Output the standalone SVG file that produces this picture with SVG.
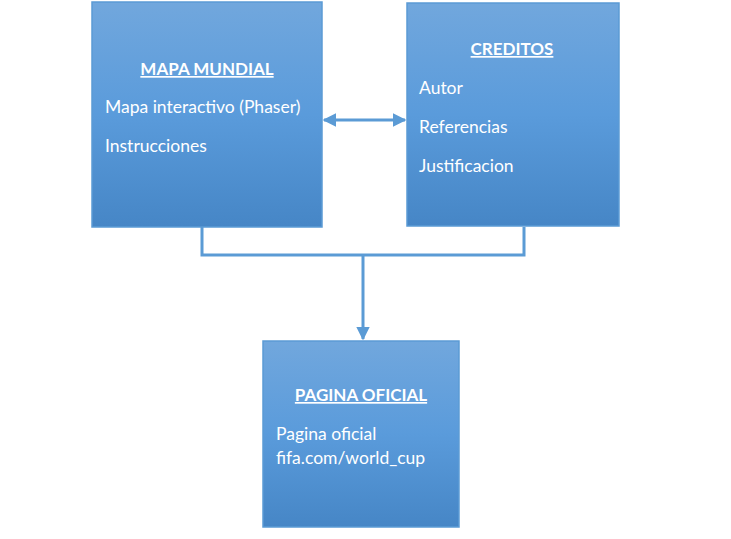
<svg xmlns="http://www.w3.org/2000/svg" width="731" height="539" viewBox="0 0 731 539">
<defs>
<linearGradient id="g" x1="0" y1="0" x2="0" y2="1">
<stop offset="0" stop-color="#71A7DD"/>
<stop offset="0.5" stop-color="#5A9BDB"/>
<stop offset="1" stop-color="#4686C6"/>
</linearGradient>
<marker id="ah" viewBox="0 0 10 10" refX="9" refY="5" markerWidth="4.5" markerHeight="4.5" orient="auto-start-reverse" markerUnits="strokeWidth">
<path d="M0,0 L10,5 L0,10 z" fill="#5B9BD5"/>
</marker>
<style>
.box{fill:url(#g);stroke:#5B9BD5;stroke-width:1.5}
.t{font-family:Lato,"Open Sans","Liberation Sans",sans-serif;font-size:17.5px;fill:#ffffff}
.h{font-weight:bold;text-decoration:underline;text-anchor:middle;font-size:17px}
.c{fill:none;stroke:#5B9BD5;stroke-width:3}
</style>
</defs>
<rect width="731" height="539" fill="#ffffff"/>
<g id="connectors">
<path class="c" d="M202,227 V255 H524 V227"/>
<path class="c" d="M363,255 V339" marker-end="url(#ah)"/>
<path class="c" d="M324,120 H405" marker-start="url(#ah)" marker-end="url(#ah)"/>
</g>
<g id="mapa-mundial">
<rect class="box" x="92" y="2" width="230" height="225"/>
<text class="t h" x="207" y="75">MAPA MUNDIAL</text>
<text class="t" x="105" y="113">Mapa interactivo (Phaser)</text>
<text class="t" x="105" y="152">Instrucciones</text>
</g>
<g id="creditos">
<rect class="box" x="407" y="3" width="212" height="223"/>
<text class="t h" x="512" y="55">CREDITOS</text>
<text class="t" x="419" y="94">Autor</text>
<text class="t" x="419" y="133">Referencias</text>
<text class="t" x="419" y="172">Justificacion</text>
</g>
<g id="pagina-oficial">
<rect class="box" x="263" y="341" width="196" height="186"/>
<text class="t h" x="361" y="401">PAGINA OFICIAL</text>
<text class="t" x="276" y="440">Pagina oficial</text>
<text class="t" x="276" y="464">fifa.com/world_cup</text>
</g>
</svg>
